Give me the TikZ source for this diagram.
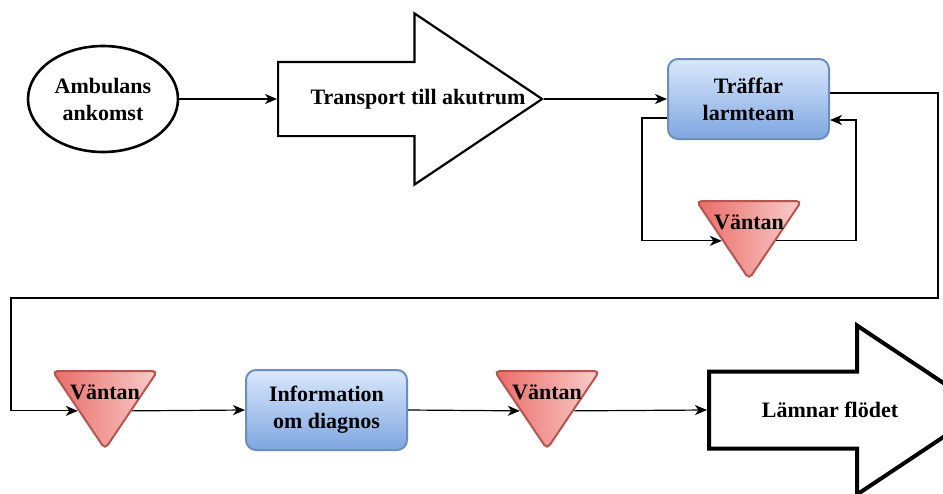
\documentclass[tikz,border=0pt]{standalone}
\usepackage{fontspec}
\setmainfont{Liberation Serif}
\usetikzlibrary{shapes.geometric,shapes.arrows,arrows.meta,calc}

\definecolor{waitL}{HTML}{EA6B66}
\definecolor{waitR}{HTML}{F8CECC}
\definecolor{waitB}{HTML}{B85450}
\definecolor{procT}{HTML}{DAE8FC}
\definecolor{procB}{HTML}{7EA6E0}
\definecolor{procD}{HTML}{6C8EBF}

\tikzset{
  lbl/.style={font=\bfseries\fontsize{22}{27}\selectfont, align=center, inner sep=0pt},
  conn/.style={line width=1.2pt, -{Stealth[length=12pt,width=10pt,inset=3.5pt]}},
  startnode/.style={ellipse, draw, line width=2.6pt, minimum width=150, minimum height=106, fill=white},
  bigarrow/.style={single arrow, draw, fill=white, anchor=tail, inner xsep=0pt},
  procbox/.style={rectangle, rounded corners=10pt, draw=procD, line width=2pt,
    top color=procT, bottom color=procB, minimum width=161, minimum height=80},
  waitnode/.style={isosceles triangle, isosceles triangle stretches, shape border rotate=270,
    rounded corners=5pt, draw=waitB, line width=2pt, left color=waitL, right color=waitR,
    minimum width=105, minimum height=78, inner sep=0pt}
}

\begin{document}
\begin{tikzpicture}[x=1pt, y=-1pt]
\useasboundingbox (0,0) rectangle (943,493);

% first row
\node[startnode, lbl] (amb) at (103,99) {Ambulans\\ankomst};
\node[bigarrow, line width=2.2pt, minimum height=264, inner ysep=36pt,
      single arrow head extend=48.5, single arrow tip angle=67.7] (tr) at (277,99) {};
\node[lbl] (trtxt) at (418,99) {Transport till akutrum};
\node[procbox, lbl] (b1) at (748.5,99) {Träffar\\larmteam};
\node[waitnode] (w1) at (749,229) {};
\node[lbl] (w1txt) at ($(w1.left corner)!0.5!(w1.right corner)+(0,22)$) {Väntan};

% second row
\node[waitnode] (w2) at (105,399) {};
\node[lbl] (w2txt) at ($(w2.left corner)!0.5!(w2.right corner)+(0,22)$) {Väntan};
\node[procbox, lbl] (info) at (326.5,410) {Information\\om diagnos};
\node[waitnode] (w3) at (547,399) {};
\node[lbl] (w3txt) at ($(w3.left corner)!0.5!(w3.right corner)+(0,22)$) {Väntan};
\node[bigarrow, line width=4pt, minimum height=275, inner ysep=36.5pt,
      single arrow head extend=46, single arrow tip angle=67.3] (lam) at (707,410) {};
\node[lbl] (lamtxt) at (830,410) {Lämnar flödet};

% connectors
\draw[conn] (amb.east) -- (tr.tail);
\draw[conn] (tr.tip) -- (b1.west);
\draw[conn] ($(b1.west)+(0,19)$) -- ++(-25,0) |- (w1.right side);
\draw[conn] (w1.left side) -| ($(b1.east)+(26,21)$) -- ($(b1.east)+(0,21)$);
\draw[conn] ($(b1.east)+(0,-6)$) -| (938,298) -- (11,298) |- (w2.right side);
\draw[conn] (w2.left side) -- (info.west);
\draw[conn] (info.east) -- (w3.right side);
\draw[conn] (w3.left side) -- (lam.tail);
\end{tikzpicture}
\end{document}
